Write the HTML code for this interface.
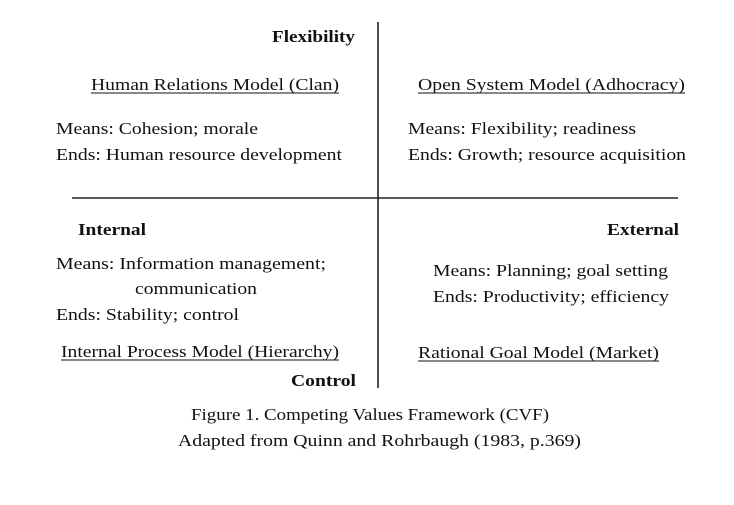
<!DOCTYPE html>
<html><head><style>html,body{margin:0;padding:0;background:#fff;}svg{display:block}</style></head>
<body>
<svg width="734" height="505" xmlns="http://www.w3.org/2000/svg" font-family="Liberation Serif, serif" font-size="17" fill="#111">
<line x1="378" y1="22" x2="378" y2="388" stroke="#222" stroke-width="1.6"/>
<line x1="72" y1="198" x2="678" y2="198" stroke="#222" stroke-width="1.6"/>
<g transform="translate(0,1)">
<g font-weight="bold">
<text x="272" y="41" textLength="83" lengthAdjust="spacingAndGlyphs">Flexibility</text>
<text x="78" y="234" textLength="68" lengthAdjust="spacingAndGlyphs">Internal</text>
<text x="607" y="234" textLength="72" lengthAdjust="spacingAndGlyphs">External</text>
<text x="291" y="385" textLength="65" lengthAdjust="spacingAndGlyphs">Control</text>
</g>
<text x="91" y="89" textLength="248" lengthAdjust="spacingAndGlyphs">Human Relations Model (Clan)</text>
<text x="418" y="89" textLength="267" lengthAdjust="spacingAndGlyphs">Open System Model (Adhocracy)</text>
<text x="61" y="356" textLength="278" lengthAdjust="spacingAndGlyphs">Internal Process Model (Hierarchy)</text>
<text x="418" y="357" textLength="241" lengthAdjust="spacingAndGlyphs">Rational Goal Model (Market)</text>
<line x1="91" y1="92" x2="339" y2="92" stroke="#111"/>
<line x1="418" y1="92" x2="685" y2="92" stroke="#111"/>
<line x1="61" y1="359" x2="339" y2="359" stroke="#111"/>
<line x1="418" y1="360" x2="659" y2="360" stroke="#111"/>
<text x="56" y="133" textLength="202" lengthAdjust="spacingAndGlyphs">Means: Cohesion; morale</text>
<text x="56" y="159" textLength="286" lengthAdjust="spacingAndGlyphs">Ends: Human resource development</text>
<text x="408" y="133" textLength="228" lengthAdjust="spacingAndGlyphs">Means: Flexibility; readiness</text>
<text x="408" y="159" textLength="278" lengthAdjust="spacingAndGlyphs">Ends: Growth; resource acquisition</text>
<text x="56" y="268" textLength="270" lengthAdjust="spacingAndGlyphs">Means: Information management;</text>
<text x="135" y="293" textLength="122" lengthAdjust="spacingAndGlyphs">communication</text>
<text x="56" y="319" textLength="183" lengthAdjust="spacingAndGlyphs">Ends: Stability; control</text>
<text x="433" y="275" textLength="235" lengthAdjust="spacingAndGlyphs">Means: Planning; goal setting</text>
<text x="433" y="301" textLength="236" lengthAdjust="spacingAndGlyphs">Ends: Productivity; efficiency</text>
<text x="191" y="419" textLength="358" lengthAdjust="spacingAndGlyphs">Figure 1. Competing Values Framework (CVF)</text>
<text x="178" y="445" textLength="403" lengthAdjust="spacingAndGlyphs">Adapted from Quinn and Rohrbaugh (1983, p.369)</text>
</g>
</svg>
</body></html>
